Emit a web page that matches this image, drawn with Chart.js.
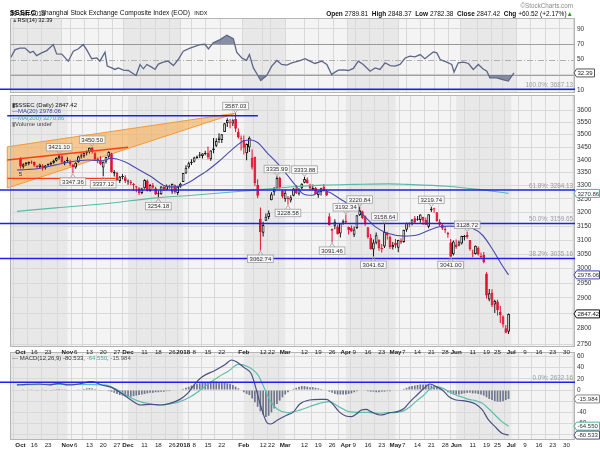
<!DOCTYPE html>
<html><head><meta charset="utf-8">
<script src="https://cdn.jsdelivr.net/npm/chart.js@4.4.1/dist/chart.umd.min.js"></script>
<style>
html,body{margin:0;padding:0;background:#fff;}
#wrap{position:relative;width:600px;height:450px;overflow:hidden;background:#fff;font-family:"Liberation Sans",Arial,sans-serif;color:#111;}
canvas{position:absolute;left:0;top:0;}
.t{position:absolute;white-space:nowrap;line-height:1;}
.lg{position:absolute;white-space:nowrap;line-height:1;font-size:6px;left:12px;}
</style></head><body>
<div id="wrap">
<canvas id="cRsi" width="600" height="450"></canvas>
<canvas id="cMacd" width="600" height="450"></canvas>
<canvas id="cMain" width="600" height="450"></canvas>
<div class="t" style="left:10px;top:2px;"><b style="font-size:8px">$SSEC</b> <span style="font-size:6.6px">Shanghai Stock Exchange Composite Index (EOD)</span> <span style="font-size:5.5px">INDX</span></div>
<div class="t" style="left:10px;top:11px;font-size:6.3px;">29-Jun-2018</div>
<div class="t" style="right:27px;top:3px;font-size:6.3px;color:#888;">&copy;StockCharts.com</div>
<div class="t" style="right:27px;top:11px;font-size:6.5px;"><b>Open</b> 2789.81 &nbsp;<b>High</b> 2848.37 &nbsp;<b>Low</b> 2782.38 &nbsp;<b>Close</b> 2847.42 &nbsp;<b>Chg</b> +60.52 (+2.17%)<span style="color:#2a9a2a">&#9650;</span></div>
<div class="lg" style="top:18px;font-size:5.6px;"><span style="color:#667">&#9650;</span>RSI(14) 32.39</div>
<div class="lg" style="top:102.4px;"><span style="color:#333">&#9646;</span>$SSEC (Daily) 2847.42</div>
<div class="lg" style="top:108.3px;color:#3c3cb4;">&#8212;MA(20) 2978.06</div>
<div class="lg" style="top:114.9px;color:#4aa898;">&#8212;MA(200) 3270.86</div>
<div class="lg" style="top:120.9px;color:#444;"><span style="color:#777">&#9646;</span>Volume undef</div>
<div class="lg" style="top:355.4px;color:#333;"><span style="color:#4a5080">&#8212;</span> MACD(12,26,9) -80.533, <span style="color:#3fae9c">-64.550</span>, <span style="color:#555">-15.984</span></div>
</div>
<script>
// ---------- categories (trading calendar) ----------
const holidays = ['2017-12-25','2018-01-01','2018-02-15','2018-02-16','2018-02-19','2018-02-20','2018-02-21','2018-04-05','2018-04-06','2018-04-30','2018-05-01','2018-06-18'];
function buildDates(start, end) {
  const out = []; const d = new Date(start + 'T00:00:00Z'); const e = new Date(end + 'T00:00:00Z');
  while (d <= e) { const wd = d.getUTCDay(); const s = d.toISOString().slice(0, 10);
    if (wd !== 0 && wd !== 6 && holidays.indexOf(s) < 0) out.push(s);
    d.setUTCDate(d.getUTCDate() + 1); }
  return out;
}
const dates = buildDates('2017-10-09', '2018-08-03');

const tickDates = ['2017-10-09','2017-10-16','2017-10-23','2017-11-01','2017-11-06','2017-11-13','2017-11-20','2017-11-27','2017-12-01','2017-12-11','2017-12-18','2017-12-26','2018-01-02','2018-01-08','2018-01-15','2018-01-22','2018-02-01','2018-02-12','2018-02-22','2018-03-01','2018-03-12','2018-03-19','2018-03-26','2018-04-02','2018-04-09','2018-04-16','2018-04-23','2018-05-02','2018-05-07','2018-05-14','2018-05-21','2018-05-28','2018-06-01','2018-06-11','2018-06-19','2018-06-25','2018-07-02','2018-07-09','2018-07-16','2018-07-23','2018-07-30'];
const tickLabels = ['Oct','16','23','Nov','6','13','20','27','Dec','11','18','26','2018','8','15','22','Feb','12','22','Mar','12','19','26','Apr','9','16','23','May','7','14','21','28','Jun','11','19','25','Jul','9','16','23','30'];
const boldLabels = ['Oct','Nov','Dec','2018','Feb','Mar','Apr','May','Jun','Jul'];

// ---------- price series (daily OHLC, Oct 9 2017 .. Jun 29 2018) ----------
const opens = [3403,3373,3383,3385,3389,3391,3376,3372,3378,3368,
3380,3381,3388,3396,3406,3414,3386,3395,3393,3380,
3370,3390,3413,3414,3428,3431,3447,3426,3400,3398,
3370,3392,3412,3425,3347,3350,3318,3333,3332,3316,
3315,3305,3298,3290,3272,3290,3320,3280,3302,3290,
3268,3268,3295,3285,3300,3278,3302,3272,3296,3314,
3347,3371,3387,3392,3406,3416,3415,3423,3428,3402,
3438,3455,3478,3478,3510,3547,3550,3545,3563,3511,
3485,3479,3426,3448,3408,3412,3304,3177,3126,3170,
3183,3245,3275,3289,3329,3281,3249,3250,3244,3262,
3289,3270,3290,3311,3324,3305,3286,3292,3265,3275,
3296,3279,3186,3140,3151,3149,3123,3162,3169,3147,
3143,3119,3143,3190,3204,3186,3146,3108,3066,3090,
3101,3068,3077,3125,3112,3074,3090,3073,3098,3093,
3137,3157,3159,3179,3173,3172,3183,3172,3148,3209,
3212,3201,3165,3155,3140,3125,3091,3050,3084,3081,
3088,3111,3119,3100,3055,3051,3073,3040,3048,2982,
2895,2917,2878,2888,2854,2839,2801,2789.81];
const highs = [3410,3386,3391,3393,3397,3393,3380,3384,3382,3380,
3385,3392,3400,3410,3421.10,3418,3396,3410,3400,3384,
3390,3416,3425,3428,3436,3448,3450.50,3430,3408,3414,
3393,3412,3433,3428,3360,3353,3337,3345,3340,3324,
3322,3310,3300,3295,3292,3325,3324,3306,3310,3296,
3280,3299,3300,3305,3304,3308,3305,3300,3311,3349,
3379,3392,3402,3412,3417,3430,3426,3435,3452,3437,
3486,3485,3505,3502,3547,3566,3563,3562,3587.03,3524,
3496,3496,3464,3492,3441,3412,3325,3218,3166,3196,
3207,3275,3295,3335.99,3334,3286,3285,3261,3264,3290,
3303,3289,3309,3333.88,3331,3307,3305,3295,3282,3292,
3306,3285,3197,3141,3175,3155,3161,3174,3192.34,3149,
3152,3149,3190,3220.84,3206,3189,3147,3122,3102,3127,
3103,3086,3158.64,3130,3116,3093,3104,3101,3106,3137,
3163,3164,3175,3187,3187,3193,3184,3181,3193,3219.74,
3217,3202,3175,3158,3149,3130,3104,3098,3102,3098,
3115,3118,3128.72,3100,3066,3081,3077,3056,3058,2987,
2930,2929,2894,2894,2874,2843,2811,2848.37];
const lows = [3366,3366,3376,3379,3383,3373,3364,3365,3358,3362,
3372,3377,3384,3393,3401,3384,3379,3390,3375,3347.36,
3365,3388,3405,3408,3418,3425,3425,3398,3386,3380,
3337.12,3385,3405,3350,3335,3318,3310,3325,3310,3304,
3302,3280,3275,3265,3268,3288,3278,3277,3288,3265,
3254.18,3266,3280,3282,3288,3270,3270,3265,3292,3314,
3346,3366,3380,3389,3404,3407,3405,3418,3402,3396,
3426,3450,3466,3466,3510,3531,3525,3535,3510,3484,
3436,3421,3398,3430,3362,3299,3254,3062.74,3113,3169,
3175,3245,3263,3289,3288,3253,3240,3228.58,3237,3260,
3269,3263,3287,3309,3307,3283,3282,3268,3255,3263,
3278,3261,3152,3091.46,3139,3120,3109,3155,3161,3120,
3130,3111,3140,3187,3176,3151,3105,3066,3041.62,3085,
3062,3056,3072,3102,3068,3066,3071,3057,3086,3090,
3130,3146,3152,3159,3170,3162,3154,3154,3142,3202,
3199,3166,3148,3136,3125,3108,3041.00,3045,3069,3078,
3084,3098,3105,3062,3039,3049,3045,3034,3018,2898,
2889,2870,2850,2842,2818,2803,2785,2782.38];
const closes = [3374,3382,3388,3391,3390,3378,3372,3381,3371,3378,
3380,3388,3396,3407,3416,3390,3393,3396,3383,3372,
3388,3413,3416,3427,3432,3447,3430,3403,3399,3383,
3392,3411,3430,3352,3353,3322,3334,3337,3317,3318,
3309,3303,3293,3272,3289,3322,3280,3303,3292,3267,
3268,3297,3287,3300,3297,3306,3275,3296,3307,3349,
3369,3386,3391,3409,3413,3421,3425,3428,3410,3436,
3444,3474,3488,3501,3546,3559,3548,3558,3523,3488,
3481,3447,3462,3487,3370,3309,3262,3129,3154,3184,
3199,3268,3289,3329,3292,3259,3273,3254,3256,3289,
3271,3288,3307,3326,3310,3291,3291,3269,3279,3290,
3281,3263,3153,3133,3166,3122,3160,3168,3163,3136,
3131,3138,3190,3208,3180,3159,3111,3067,3091,3117,
3071,3068,3129,3117,3075,3082,3081,3100,3091,3136,
3161,3159,3174,3163,3174,3192,3170,3155,3193,3214,
3213,3169,3155,3141,3135,3120,3041,3095,3075,3092,
3114,3115,3110,3067,3052,3080,3049,3044,3022,2908,
2916,2876,2890,2860,2844,2813,2786,2847.42];

// moving averages: [day index, value]
const ma20Pts = [[-1.3,3360],[2.2,3362],[6.8,3366],[12.8,3380],[18.9,3393],[24.5,3399],[29.5,3396],[33,3406],[37.6,3393],[42.2,3366],[47.2,3336],[51.8,3302],[55.3,3295],[58.8,3302],[62.4,3321],[65.9,3345],[67,3352],[71.9,3393],[76.5,3438],[81.1,3475],[83.6,3478],[86.1,3467],[89.6,3425],[93.2,3386],[96.7,3341],[100.2,3295],[102.4,3270],[105.9,3264],[109.4,3283],[113,3270],[116.5,3246],[121.5,3215],[125,3184],[128.6,3148],[133.2,3124],[139.2,3114],[143.8,3118],[148.4,3136],[151.9,3148],[155.4,3150],[160.4,3148],[163.9,3142],[167.5,3118],[171,3070],[174.6,3012],[177,2978.06]];
const ma200Pts = [[-1.3,3204],[12.8,3217],[30.5,3232],[48.2,3253],[62.4,3264],[80.1,3279],[97.8,3295],[109.4,3302],[121.5,3305],[133.2,3307],[140,3305],[154.4,3298],[166.1,3286],[177,3270.86]];

// RSI(14)
const rsiPts = [[-1.3,51],[0.5,63],[2.2,65],[4,65],[5.8,59],[6.9,60.8],[8.1,55],[9.9,58.7],[11.7,61.7],[14,69.6],[15.2,57.4],[17,57],[19.3,47.8],[21.1,60.8],[22.9,64],[24.6,69.6],[25.8,63],[27.6,51],[29.4,52],[30.5,47.8],[32.3,59.5],[33.1,41.3],[34.7,39],[35.8,37],[37,39],[38.8,36],[40.6,35.6],[41.8,32.6],[43.3,29],[44.7,43.5],[45.9,37.8],[47.1,43.5],[48.8,40],[50,37],[51.2,44],[52.9,46.5],[54.7,47.8],[56.5,42],[58.2,50],[60,60.8],[62.4,65],[65.9,69.6],[67.7,70],[68.9,64],[70.6,71.8],[73,76],[75.4,81.7],[77.7,77.4],[78.9,59.5],[80.7,52],[82.4,49],[83.4,56.5],[84.8,39],[86.2,30.4],[87.4,22.6],[89.5,29],[91.3,41.3],[93.1,48.7],[94.8,43.5],[96.6,42.6],[98.4,45.7],[101.3,48.5],[103.1,51],[104.8,47.8],[106.6,44.8],[109,47.8],[110.8,43.5],[112.5,30.4],[113.7,33.5],[114.9,36],[116.6,36.5],[118.4,35.6],[120.2,38.3],[121.9,47.8],[123.7,43.5],[126.1,34.7],[127.9,39],[129.6,37],[131.4,45.7],[133.2,42],[134.9,41.3],[136.7,43.5],[138.5,52],[140.2,54.3],[142,53.5],[143.8,56.5],[145.5,51],[147.3,56.5],[148.5,60],[149.7,58.7],[150.9,50],[153.2,46.5],[155,43.5],[155.8,33.5],[157.3,45.7],[159.1,46.5],[160.9,44.8],[162.6,37],[164.4,43.5],[166,37.8],[167.4,34.7],[168.5,26],[170.9,26],[172.7,23.9],[175,21.7],[177,32.39]];

// MACD(12,26,9)
const macdPts = [[-1.3,9],[2.2,10],[6.8,10.7],[10.4,9],[13.9,12],[17.1,9],[21,10.7],[25.9,14.9],[29.5,9],[33,4.8],[36.6,-6],[40.1,-17.9],[43.6,-26.8],[47.2,-25.6],[50.7,-26.8],[54.2,-23.8],[57.8,-16.7],[60.6,-6],[63.4,12],[65.9,23.8],[70.5,35],[74.1,45],[76.5,53.6],[78.3,50.6],[81.1,40],[83.6,29.8],[84.7,15],[87.2,-29.8],[89.6,-59.5],[90.7,-60.7],[93.2,-53.6],[96.7,-44.6],[98.8,-40],[101.3,-25],[104.8,-17.9],[108.4,-16.7],[110.9,-16.7],[113,-23.8],[115.5,-38.7],[118,-46.4],[120.1,-47.6],[121.8,-42.9],[123.6,-35.7],[125.4,-34.5],[127.1,-38.7],[130.3,-44.6],[132.1,-43.5],[133.9,-40.5],[136.7,-38.7],[139.2,-32.7],[141.3,-20.8],[143.8,-8.9],[146.3,3],[148.4,10.7],[150.9,6],[153.3,-1.2],[155.4,-11.9],[157.9,-17.9],[160.4,-19],[162.5,-20.8],[165,-25],[167.5,-35.7],[169.6,-52.4],[172.1,-65.5],[174.6,-77.4],[177,-80.533]];
const signalPts = [[-1.3,9],[9.9,10],[19.9,10],[30.5,9],[34.1,3],[37.6,-7],[42.2,-19],[47.2,-25],[50.7,-26.8],[54.2,-25],[57.8,-20.8],[61.3,-13],[64.9,-1.2],[68.4,12],[71.9,23.8],[75.5,34],[79,45.8],[82.5,41.7],[86.1,27],[88.2,6],[90.7,-20.8],[93.2,-34.5],[96.7,-40.5],[101.3,-36],[104.8,-29.8],[108.4,-23.8],[111.9,-20.8],[115.5,-29.8],[119,-38.7],[122.5,-39.9],[126.1,-40],[129.6,-41.7],[133.2,-40.5],[136.7,-39.9],[139.2,-36.9],[141.3,-29.8],[143.8,-19],[146.3,-8.9],[148.4,1.2],[150.9,6],[153.3,3],[155.4,-3],[157.9,-8.9],[160.4,-13],[162.5,-16.7],[165,-19],[167.5,-23.8],[169.6,-32.7],[172.1,-44.6],[174.6,-56.5],[177,-64.55]];
const macdHist = [0,0.5,1,1,0.5,0,-0.5,0,0.5,-0.5,
-1,-0.5,0.5,1.5,2,1.5,0.5,-0.5,-1,-1,
0,0.5,1,2,3,3.5,3,2,1,-0.5,
-1,-1,-2,-3,-5,-7,-9,-10,-11,-12,
-12,-11,-10,-9,-8,-7,-6,-5,-5,-4,
-4,-3,-3,-2,-2,-1,-1,0,1,2,
4,6,8,10,11,12,13,13,14,14,
15,15,14,14,13,12,11,9,6,3,
0,-4,-7,-9,-15,-22,-30,-38,-44,-48,
-46,-40,-33,-25,-19,-13,-8,-4,-1,2,
4,6,7,7,6,5,5,4,3,2,
1,-1,-3,-5,-7,-8,-8,-8,-8,-7,
-6,-4,-2,-1,0,-1,-2,-3,-3,-4,
-4,-3,-3,-2,-2,-1,-1,0,1,2,
4,6,7,8,9,10,10,10,9,8,
7,5,3,1,-1,-4,-6,-7,-8,-8,
-7,-6,-5,-5,-6,-6,-7,-8,-10,-13,
-16,-18,-20,-21,-21,-20,-18,-15.984];

// annotations
const peakIdx = [14, 26, 78, 93, 103, 118, 123, 132, 149, 162];
const troughIdx = [19, 30, 50, 87, 97, 113, 128, 156];
const fibLevels = [['100.0%', 3687.13], ['61.8%', 3284.13], ['50.0%', 3159.65], ['38.2%', 3035.16], ['0.0%', 2632.16]];
const wedgeUpper = [[-4.8, 3451], [78, 3587.03]];
const wedgeLower = [[-4.8, 3291], [78, 3587.03]];
const redLines = [[[-4.8, 3399], [39, 3449]], [[-4.8, 3328], [34.5, 3328]]];
const topLine = [[-4.8, 3577], [86.1, 3577]];

// tick values
const mainTicks = [2750,2800,2850,2900,2950,3000,3050,3100,3150,3200,3250,3300,3350,3400,3450,3500,3550,3600];
const rsiTicks = [10,30,50,70,90];
const macdTicks = [60,40,20,0,-20,-40,-60,-80];

// ---------- styling ----------
const FONT = '"Liberation Sans", Arial, sans-serif';
const PLOT_BG = '#f4f4f4', BAND_BG = '#e8e8e8', GRID = '#d9d9d9', BORDER = '#b5b5b5';
const X_MIN = -1.31, X_MAX = 198.6;
const tickIdx = tickDates.map(d => dates.indexOf(d));

function evenMonthBands() {
  const res = []; let cur = null;
  dates.forEach((d, i) => { const m = +d.slice(5, 7);
    if (!cur || cur.m !== m) { if (cur) cur.e = i; cur = {m: m, s: i, e: dates.length}; res.push(cur); } });
  return res.filter(b => b.m % 2 === 0).map(b => [b.s === 0 ? X_MIN - 5 : b.s, b.e]);
}
const bands = evenMonthBands();

const panelPlugin = {
  id: 'panel',
  beforeDraw(chart) {
    const {ctx, chartArea: a, scales: {x}} = chart;
    ctx.save();
    ctx.fillStyle = PLOT_BG; ctx.fillRect(a.left, a.top, a.width, a.height);
    ctx.fillStyle = BAND_BG;
    bands.forEach(([s, e]) => {
      const x0 = Math.max(a.left, x.getPixelForValue(s)), x1 = Math.min(a.right, x.getPixelForValue(e));
      if (x1 > x0) ctx.fillRect(x0, a.top, x1 - x0, a.height);
    });
    ctx.restore();
  },
  afterDatasetsDraw(chart) {
    const {ctx, chartArea: a} = chart;
    ctx.save(); ctx.strokeStyle = BORDER; ctx.lineWidth = 1;
    ctx.strokeRect(Math.round(a.left) + 0.5, Math.round(a.top) + 0.5, Math.round(a.width) - 1, Math.round(a.height) - 1);
    ctx.restore();
  }
};

function axisBox(chart, value, text, border, color) {
  const {ctx, chartArea: a, scales: {y}} = chart;
  const py = y.getPixelForValue(value);
  ctx.save();
  ctx.font = '6px ' + FONT;
  const w = ctx.measureText(text).width + 3, h = 8, x = a.right - 1;
  const r = Math.min(599.5, x + 2.5 + w);
  ctx.beginPath(); ctx.moveTo(x, py); ctx.lineTo(x + 2.5, py - h / 2); ctx.lineTo(r, py - h / 2);
  ctx.lineTo(r, py + h / 2); ctx.lineTo(x + 2.5, py + h / 2); ctx.closePath();
  ctx.fillStyle = '#fff'; ctx.fill(); ctx.strokeStyle = border; ctx.lineWidth = 1; ctx.stroke();
  ctx.fillStyle = color; ctx.textAlign = 'left'; ctx.textBaseline = 'middle';
  ctx.fillText(text, x + 3.5, py + 0.5);
  ctx.restore();
}

function xScale(showLabels, height) {
  return {
    type: 'linear', min: X_MIN, max: X_MAX,
    afterBuildTicks: s => { s.ticks = tickIdx.map(v => ({value: v})); },
    afterFit: s => { s.height = height; },
    grid: {color: GRID, drawTicks: false, lineWidth: 1},
    border: {display: false},
    ticks: {display: showLabels, autoSkip: false, maxRotation: 0, minRotation: 0, padding: 1.5, color: '#222',
      font: ctx => ({family: FONT, size: 6.2, weight: (ctx.index !== undefined && boldLabels.indexOf(tickLabels[ctx.index]) >= 0) ? 'bold' : 'normal'}),
      callback: (v, i) => tickLabels[i]}
  };
}
function yScale(type, min, max, ticks, gridColor) {
  return {
    type: type, position: 'right', min: min, max: max,
    afterBuildTicks: s => { s.ticks = ticks.map(v => ({value: v})); },
    afterFit: s => { s.width = 25; },
    grid: {color: gridColor || GRID, drawTicks: false, lineWidth: 1},
    border: {display: false},
    ticks: {autoSkip: false, padding: 2, color: '#333', font: {family: FONT, size: 6.5}, callback: v => String(v)}
  };
}
const common = {
  responsive: false, animation: false, devicePixelRatio: 1, events: [],
  plugins: {legend: {display: false}, tooltip: {enabled: false}}
};

// ---------- RSI panel ----------
const rsiLinesPlugin = {
  id: 'rsiLines',
  beforeDatasetsDraw(chart) {
    const {ctx, chartArea: a, scales: {y}} = chart;
    ctx.save(); ctx.lineWidth = 1;
    ctx.strokeStyle = '#a0a0a0';
    [70, 30].forEach(v => { const py = Math.round(y.getPixelForValue(v)) + 0.5;
      ctx.beginPath(); ctx.moveTo(a.left, py); ctx.lineTo(a.right, py); ctx.stroke(); });
    ctx.strokeStyle = '#b0b0b0'; ctx.setLineDash([6, 2, 1, 2]);
    const p = Math.round(y.getPixelForValue(50)) + 0.5;
    ctx.beginPath(); ctx.moveTo(a.left, p); ctx.lineTo(a.right, p); ctx.stroke();
    ctx.restore();
  },
  afterDraw(chart) { axisBox(chart, 32.39, '32.39', '#555', '#222'); }
};
const rsiXY = rsiPts.map(([x, y]) => ({x, y}));
new Chart(document.getElementById('cRsi'), {
  type: 'line',
  data: {datasets: [
    {data: rsiXY, borderWidth: 0, pointRadius: 0, fill: {target: {value: 70}, above: 'rgba(100,108,138,0.75)', below: 'rgba(0,0,0,0)'}},
    {data: rsiXY, borderWidth: 0, pointRadius: 0, fill: {target: {value: 30}, above: 'rgba(0,0,0,0)', below: 'rgba(100,108,138,0.75)'}},
    {data: rsiXY, borderColor: '#5d6688', borderWidth: 1.3, pointRadius: 0, fill: false, tension: 0}
  ]},
  options: Object.assign({}, common, {
    layout: {padding: {left: 10, right: 0, top: 18, bottom: 357}},
    scales: {x: xScale(false, 0), y: Object.assign(yScale('linear', 6.1, 104.4, rsiTicks), {grid: {color: c => c.tick && c.tick.value === 50 ? 'rgba(0,0,0,0)' : GRID, drawTicks: false}})}
  }),
  plugins: [panelPlugin, rsiLinesPlugin]
});

// ---------- MACD panel ----------
new Chart(document.getElementById('cMacd'), {
  data: {datasets: [
    {type: 'bar', data: macdHist.map((h, i) => ({x: i, y: [0, h]})), backgroundColor: '#70768c', grouped: false,
      barPercentage: 0.62, categoryPercentage: 1, inflateAmount: 0, order: 3},
    {type: 'line', data: signalPts.map(([x, y]) => ({x, y})), borderColor: '#5fbdad', borderWidth: 1.2, pointRadius: 0, cubicInterpolationMode: 'monotone', order: 2},
    {type: 'line', data: macdPts.map(([x, y]) => ({x, y})), borderColor: '#4a5080', borderWidth: 1.2, pointRadius: 0, cubicInterpolationMode: 'monotone', order: 1}
  ]},
  options: Object.assign({}, common, {
    layout: {padding: {left: 10, right: 0, top: 352, bottom: 0}},
    scales: {x: xScale(true, 10), y: yScale('linear', -89.3, 67.9, macdTicks)}
  }),
  plugins: [panelPlugin, {id: 'macdBoxes', afterDraw(chart) {
    axisBox(chart, -15.984, '-15.984', '#888', '#333');
    axisBox(chart, -64.55, '-64.550', '#4fb3a2', '#333');
    axisBox(chart, -80.533, '-80.533', '#4a5080', '#333');
  }}]
});

// ---------- main price panel ----------
const candleColor = closes.map((c, i) => c >= (i ? closes[i - 1] : opens[i]) ? '#151515' : '#e0122f');
const candleFill = closes.map((c, i) => c >= opens[i] ? '#ffffff' : candleColor[i]);

function priceTag(ctx, x, y, text, above) {
  ctx.font = '6px ' + FONT;
  const w = ctx.measureText(text).width + 4, h = 7.5;
  const by = above ? y - 3.5 - h : y + 4.5;
  ctx.fillStyle = 'rgba(250,250,250,0.9)'; ctx.strokeStyle = '#a0a0a0'; ctx.lineWidth = 0.8;
  ctx.beginPath();
  if (above) { ctx.moveTo(x - 2.5, by + h); ctx.lineTo(x, y - 0.5); ctx.lineTo(x + 2.5, by + h); }
  else { ctx.moveTo(x - 2.5, by); ctx.lineTo(x, y + 0.5); ctx.lineTo(x + 2.5, by); }
  ctx.stroke();
  ctx.fillRect(x - w / 2, by, w, h); ctx.strokeRect(x - w / 2, by, w, h);
  ctx.fillStyle = '#333'; ctx.textAlign = 'center'; ctx.textBaseline = 'middle';
  ctx.fillText(text, x, by + h / 2 + 0.5);
}

const mainPlugin = {
  id: 'mainAnno',
  beforeDatasetsDraw(chart) {
    const {ctx, scales: {x, y}} = chart;
    const P = ([a, b]) => [x.getPixelForValue(a), y.getPixelForValue(b)];
    const u0 = P(wedgeUpper[0]), ap = P(wedgeUpper[1]), l0 = P(wedgeLower[0]);
    ctx.save();
    ctx.beginPath(); ctx.moveTo(u0[0], u0[1]); ctx.lineTo(ap[0], ap[1]); ctx.lineTo(l0[0], l0[1]); ctx.closePath();
    ctx.fillStyle = 'rgba(246,170,80,0.6)'; ctx.fill();
    ctx.strokeStyle = '#f29a38'; ctx.lineWidth = 1; ctx.stroke();
    ctx.restore();
  },
  afterDatasetsDraw(chart) {
    const {ctx, chartArea: a, scales: {x, y}} = chart;
    const P = ([p, q]) => [x.getPixelForValue(p), y.getPixelForValue(q)];
    ctx.save();
    // red trend lines
    ctx.strokeStyle = '#ff3c14'; ctx.lineWidth = 1.4;
    redLines.forEach(([s, e]) => { const A = P(s), B = P(e); ctx.beginPath(); ctx.moveTo(A[0], A[1]); ctx.lineTo(B[0], B[1]); ctx.stroke(); });
    // blue lines
    ctx.strokeStyle = '#1f1fee'; ctx.lineWidth = 1.5;
    { const A = P(topLine[0]), B = P(topLine[1]); ctx.beginPath(); ctx.moveTo(A[0], A[1]); ctx.lineTo(B[0], B[1]); ctx.stroke(); }
    fibLevels.forEach(([lab, v]) => { const py = y.getPixelForValue(v);
      ctx.beginPath(); ctx.moveTo(0, py); ctx.lineTo(a.right, py); ctx.stroke(); });
    ctx.fillStyle = '#9a9a9a'; ctx.font = '6.3px ' + FONT; ctx.textAlign = 'right'; ctx.textBaseline = 'alphabetic';
    fibLevels.forEach(([lab, v]) => { const py = y.getPixelForValue(v); ctx.fillText(lab + ': ' + v.toFixed(2), a.right - 2, py - 2); });
    // wave label
    ctx.fillStyle = '#333'; ctx.font = '6px ' + FONT; ctx.textAlign = 'left';
    { const A = P([-0.6, 3338]); ctx.fillText('5', A[0], A[1]); }
    // price tags
    peakIdx.forEach(i => priceTag(ctx, x.getPixelForValue(i), y.getPixelForValue(highs[i]), highs[i].toFixed(2), true));
    troughIdx.forEach(i => priceTag(ctx, x.getPixelForValue(i), y.getPixelForValue(lows[i]), lows[i].toFixed(2), false));
    ctx.restore();
  },
  afterDraw(chart) {
    axisBox(chart, 3270.86, '3270.86', '#4fb3a2', '#333');
    axisBox(chart, 2978.06, '2978.06', '#4040b8', '#333');
    axisBox(chart, 2847.42, '2847.42', '#111', '#111');
  }
};

new Chart(document.getElementById('cMain'), {
  data: {datasets: [
    {type: 'bar', data: lows.map((l, i) => ({x: i, y: [l, highs[i]]})), backgroundColor: candleColor,
      grouped: false, barPercentage: 1, categoryPercentage: 1, maxBarThickness: 1, inflateAmount: 0, order: 4},
    {type: 'bar', data: opens.map((o, i) => ({x: i, y: [Math.min(o, closes[i]), Math.max(o, closes[i])]})),
      backgroundColor: candleFill, borderColor: candleColor, borderWidth: 1, borderSkipped: false,
      grouped: false, barPercentage: 1, categoryPercentage: 1, maxBarThickness: 3, minBarLength: 1, inflateAmount: 0, order: 3},
    {type: 'line', data: ma200Pts.map(([x, y]) => ({x, y})), borderColor: '#5cb8a6', borderWidth: 1.1, pointRadius: 0, cubicInterpolationMode: 'monotone', order: 2},
    {type: 'line', data: ma20Pts.map(([x, y]) => ({x, y})), borderColor: '#4a4ab4', borderWidth: 1.1, pointRadius: 0, cubicInterpolationMode: 'monotone', order: 1}
  ]},
  options: Object.assign({}, common, {
    layout: {padding: {left: 10, right: 0, top: 95, bottom: 94}},
    scales: {x: xScale(true, 9), y: yScale('logarithmic', 2741, 3663, mainTicks)}
  }),
  plugins: [panelPlugin, mainPlugin]
});
</script>
</body></html>
